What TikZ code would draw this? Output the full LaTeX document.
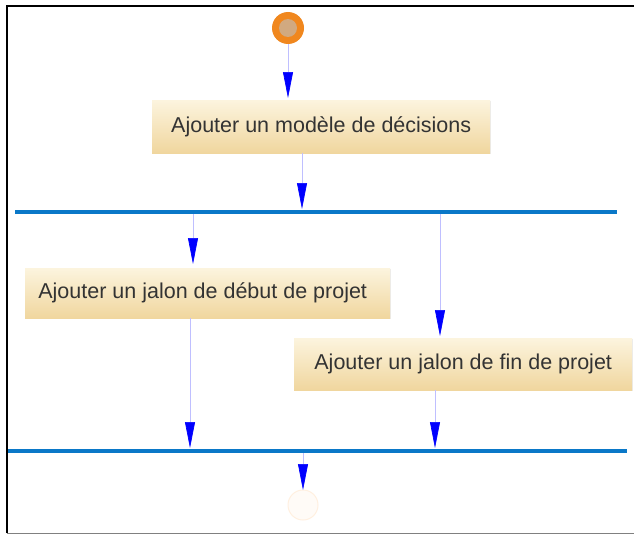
\documentclass[tikz,border=0pt]{standalone}
\usepackage{fontspec}
\setmainfont{Liberation Sans}
\usetikzlibrary{arrows.meta,shadows}
\definecolor{barblue}{RGB}{10,120,200}
\definecolor{boxtop}{RGB}{252,244,222}
\definecolor{boxbot}{RGB}{240,214,158}
\definecolor{startorange}{RGB}{240,135,30}
\tikzset{
  act/.style={rectangle, top color=boxtop, bottom color=boxbot, draw=none,
    font=\fontsize{21.5}{24}\selectfont, text=black!80, anchor=north west,
    drop shadow={shadow xshift=1pt, shadow yshift=-1pt, opacity=0.15}},
  flow/.style={draw=blue!25, line width=0.6pt, arrows={-{Triangle[length=26pt,width=10pt,color=blue]}}},
  bar/.style={draw=barblue, line width=4pt},
}
\begin{document}
\begin{tikzpicture}[x=1pt,y=-1pt]
\useasboundingbox (0,0) rectangle (634,535);
\fill[white] (0,0) rectangle (634,535);
% frame
\draw[black, line width=2.8pt] (7,533) -- (7,6) -- (634,6);
\draw[black!50, line width=1pt] (7,533.5) -- (634,533.5);
% start
\node[circle, fill=startorange, inner sep=0, minimum size=32pt] (start) at (288,28) {};
\fill[gray!45!startorange!70] (288,28) circle (9);
% activities
\node[act, minimum width=338pt, minimum height=53pt] (a1) at (152,100) {Ajouter un modèle de décisions};
\node[act, minimum width=365pt, minimum height=50pt] (a2) at (25,268) {Ajouter un jalon de début de projet\hspace*{10pt}};
\node[act, minimum width=338pt, minimum height=52pt] (a3) at (294,338) {Ajouter un jalon de fin de projet};
% bars
\coordinate (b1l) at (15,212); \coordinate (b1r) at (617,212);
\coordinate (b2l) at (8,451); \coordinate (b2r) at (627,451);
\draw[bar] (b1l) -- (b1r);
\draw[bar] (b2l) -- (b2r);
% end
\node[circle, draw=orange!12, fill=orange!3, line width=1pt, minimum size=30pt, inner sep=0] (end) at (303,505) {};
% arrows
\coordinate (s1) at (288,44);
\coordinate (t1) at (288,98);
\draw[flow] (s1) -- (t1);
\coordinate (s2) at (302,153);
\coordinate (t2) at (302,209);
\draw[flow] (s2) -- (t2);
\coordinate (s3) at (193,214);
\coordinate (t3) at (193,264);
\draw[flow] (s3) -- (t3);
\coordinate (s4) at (440,214);
\coordinate (t4) at (440,336);
\draw[flow] (s4) -- (t4);
\coordinate (s5) at (190,318);
\coordinate (t5) at (190,448);
\draw[flow] (s5) -- (t5);
\coordinate (s6) at (435,390);
\coordinate (t6) at (435,448);
\draw[flow] (s6) -- (t6);
\coordinate (s7) at (303,453);
\coordinate (t7) at (303,490);
\draw[flow] (s7) -- (t7);
\end{tikzpicture}
\end{document}
